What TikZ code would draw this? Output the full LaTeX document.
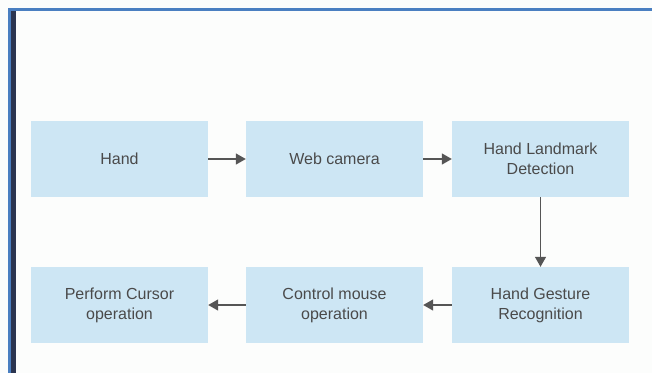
\documentclass[tikz,border=0pt]{standalone}
\usepackage{fontspec}
\setmainfont{Liberation Sans}
\usetikzlibrary{arrows.meta}
\definecolor{boxfill}{HTML}{CDE6F4}
\definecolor{txt}{HTML}{4A4A4A}
\definecolor{arr}{HTML}{555555}
\definecolor{framblue}{HTML}{4A7FC1}
\definecolor{navy}{HTML}{2B3550}
\definecolor{bg}{HTML}{FCFDFC}
\begin{document}
\begin{tikzpicture}[x=1pt,y=-1pt,
  stepbox/.style={fill=boxfill,draw=none,minimum width=177pt,minimum height=76pt,
    inner sep=0pt,align=center,text=txt,font=\fontsize{16pt}{20pt}\selectfont},
  conn/.style={draw=arr,line width=1.4pt,-{Triangle[length=10pt,width=11pt]}}]
\useasboundingbox (0,0) rectangle (652,373);
\fill[bg] (0,0) rectangle (652,373);
% frame
\fill[framblue] (8,8) rectangle (652,11);
\fill[framblue] (8,8) rectangle (11,373);
\fill[navy] (11,11) rectangle (16,373);
% nodes
\node[stepbox] (hand) at (119.5,159) {Hand};
\node[stepbox] (cam) at (334.5,159) {Web camera};
\node[stepbox] (hld) at (540.5,159) {Hand Landmark\\Detection};
\node[stepbox] (hgr) at (540.5,305) {Hand Gesture\\Recognition};
\node[stepbox] (cmo) at (334.5,305) {Control mouse\\operation};
\node[stepbox] (pco) at (119.5,305) {Perform Cursor\\operation};
% connectors
\draw[conn] (hand) -- (cam);
\draw[conn] (cam) -- (hld);
\draw[conn] (hld) -- (hgr);
\draw[conn] (hgr) -- (cmo);
\draw[conn] (cmo) -- (pco);
\end{tikzpicture}
\end{document}
